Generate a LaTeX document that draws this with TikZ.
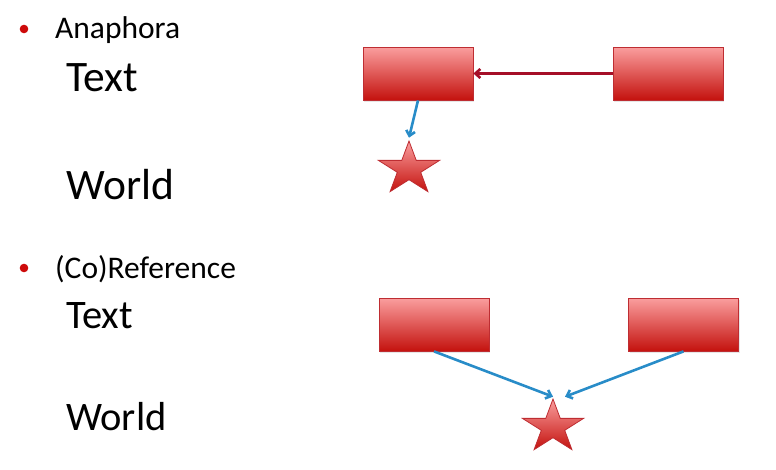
\documentclass[tikz,border=0pt]{standalone}
\usepackage{fontspec}
\setmainfont{Carlito}
\usetikzlibrary{shapes.geometric,arrows.meta,shadows}
\definecolor{boxtop}{RGB}{250,158,158}
\definecolor{boxbot}{RGB}{196,18,14}
\definecolor{boxline}{RGB}{190,45,50}
\definecolor{anared}{RGB}{165,15,40}
\definecolor{refblue}{RGB}{40,140,200}
\definecolor{bulletred}{RGB}{205,10,10}
\begin{document}
\begin{tikzpicture}[
    x=1pt,y=1pt,
    every node/.style={inner sep=0pt,anchor=base west},
    slidebox/.style={rectangle,anchor=center,draw=boxline,line width=.8pt,
        top color=boxtop,bottom color=boxbot,
        minimum width=110pt,minimum height=53pt,
        drop shadow={opacity=.2,shadow xshift=1pt,shadow yshift=-1.5pt}},
    refstar/.style={star,star points=5,star point ratio=2.618,anchor=center,
        draw=boxline,line width=.8pt,top color=boxtop,bottom color=boxbot,
        minimum size=56pt,xscale=1.15,transform shape},
    linkarrow/.style={refblue,line width=2.6pt,-{Straight Barb[length=5pt,width=9pt]}},
    anaarrow/.style={anared,line width=2.6pt,-{Straight Barb[length=5pt,width=9pt]}}]
    \useasboundingbox (0,0) rectangle (776,-469);
    % Anaphora
    \fill[bulletred] (24,-29) circle (4.3pt);
    \node (anahead) at (55,-38) {\fontsize{31.5}{38}\selectfont Anaphora};
    \node (anatext) at (66,-91) {\fontsize{43.5}{50}\selectfont Text};
    \node (anaworld) at (66,-199) {\fontsize{43.5}{50}\selectfont World};
    \node[slidebox] (antec) at (418,-73.5) {};
    \node[slidebox] (anaph) at (668,-73.5) {};
    \node[refstar] (refA) at (409,-169) {};
    \draw[anaarrow] (anaph.west) -- (antec.east);
    \draw[linkarrow] (antec.south) -- ([yshift=2pt]refA.north);
    % (Co)Reference
    \fill[bulletred] (24,-268) circle (4.3pt);
    \node (corhead) at (55,-278) {\fontsize{31.5}{38}\selectfont (Co)Reference};
    \node (cortext) at (66,-328) {\fontsize{40.5}{48}\selectfont Text};
    \node (corworld) at (66,-430) {\fontsize{40.5}{48}\selectfont World};
    \node[slidebox] (menA) at (434,-324.5) {};
    \node[slidebox] (menB) at (683.5,-324.5) {};
    \node[refstar] (refB) at (553,-427) {};
    \draw[linkarrow] (menA.south) -- ([yshift=1pt]refB.north);
    \draw[linkarrow] (menB.south) -- ([xshift=12pt,yshift=1pt]refB.north);
\end{tikzpicture}
\end{document}
